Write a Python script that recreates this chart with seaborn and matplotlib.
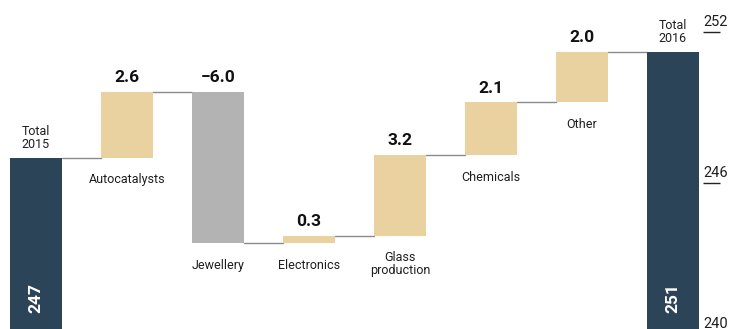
import matplotlib
matplotlib.use("Agg")
import matplotlib.pyplot as plt
import matplotlib.transforms as mtransforms
import seaborn as sns
import numpy as np

categories = ["Total 2015", "Autocatalysts", "Jewellery", "Electronics",
              "Glass production", "Chemicals", "Other", "Total 2016"]
cat_labels = ["Total\n2015", "Autocatalysts", "Jewellery", "Electronics",
              "Glass\nproduction", "Chemicals", "Other", "Total\n2016"]
start_total = 247.0
changes = [2.6, -6.0, 0.3, 3.2, 2.1, 2.0]
value_labels = ["2.6", "\u22126.0", "0.3", "3.2", "2.1", "2.0"]
total_labels = ["247", "251"]
y_ticks = [240, 246, 252]

NAVY = "#2C4457"
BEIGE = "#E9D29F"
GREY = "#B3B3B3"

# waterfall geometry from the data
levels = np.concatenate([[start_total], start_total + np.cumsum(changes)])
end_total = levels[-1]
bottoms = [0.0]
heights = [start_total]
for i, c in enumerate(changes):
    lo = min(levels[i], levels[i + 1])
    bottoms.append(lo)
    heights.append(abs(c))
bottoms.append(0.0)
heights.append(end_total)
colors = [NAVY] + [BEIGE if c > 0 else GREY for c in changes] + [NAVY]

sns.set_theme(style="white")
plt.rcParams["font.family"] = ["Roboto", "DejaVu Sans"]

fig = plt.figure(figsize=(7.29, 3.29), dpi=100)
ax = fig.add_axes([0, -5 / 329, 703 / 729, 302 / 329])

W = 0.57
sns.barplot(x=categories, y=heights, bottom=bottoms, order=categories,
            width=W, color=NAVY, ax=ax, linewidth=0, saturation=1)
for p, c in zip(ax.patches, colors):
    p.set_facecolor(c)
    p.set_edgecolor("none")

# connectors
for i in range(len(levels)):
    ax.plot([i + W / 2, i + 1 - W / 2], [levels[i], levels[i]],
            color="#8a8a8a", lw=1, zorder=0)

ax.set_xlim(-0.3956, 7.33)
ax.set_ylim(240, 252)

TXT = "#1e1e1e"
# value labels and category labels for change bars
for i, c in enumerate(changes):
    xi = i + 1
    top = max(levels[i], levels[i + 1])
    bot = min(levels[i], levels[i + 1])
    ax.annotate(value_labels[i], xy=(xi, top), xytext=(0, 5),
                textcoords="offset points", ha="center", va="bottom",
                fontsize=12.5, fontweight="bold", color="#111111")
    ax.annotate(cat_labels[xi], xy=(xi, bot), xytext=(0, -11),
                textcoords="offset points", ha="center", va="top",
                fontsize=9, color=TXT, linespacing=1.0)

# totals
for xi, tot, lab in [(0, start_total, total_labels[0]),
                     (7, end_total, total_labels[1])]:
    ax.annotate(cat_labels[xi], xy=(xi, tot), xytext=(0, 5),
                textcoords="offset points", ha="center", va="bottom",
                fontsize=9, color=TXT, linespacing=1.0)
    ax.annotate(lab, xy=(xi, 0), xycoords=("data", "axes fraction"),
                xytext=(0, 26), textcoords="offset points", ha="center",
                va="center", rotation=90, fontsize=12.5, fontweight="bold",
                color="white")

# axes styling
for s in ax.spines.values():
    s.set_visible(False)
ax.set_xticks([])
ax.set_xlabel("")
ax.yaxis.tick_right()
ax.set_yticks(y_ticks)
ax.set_yticklabels([str(t) for t in y_ticks])
ax.tick_params(axis="y", which="major", right=True, left=False,
               labelright=True, labelleft=False, length=12.2, width=1,
               color="#222222", direction="out", pad=-12.0,
               labelsize=10.5, labelcolor=TXT)
lift = mtransforms.ScaledTranslation(0, 3 / 100, fig.dpi_scale_trans)
for t in ax.yaxis.get_major_ticks():
    t.label2.set_va("bottom")
    t.label2.set_ha("left")
    t.label2.set_transform(t.label2.get_transform() + lift)
ax.grid(False)

fig.savefig("out.png", dpi=100)
